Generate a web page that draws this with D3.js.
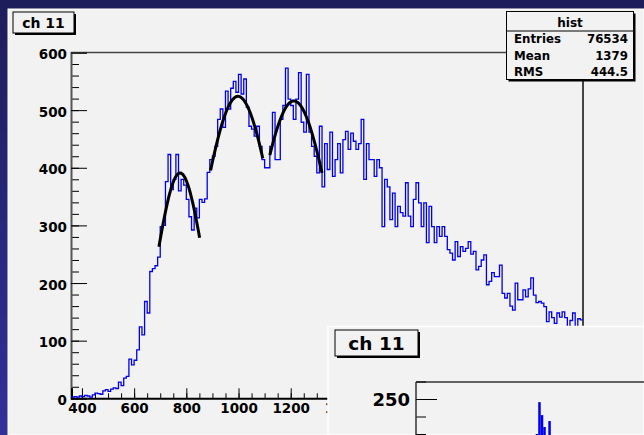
<!DOCTYPE html>
<html>
<head>
<meta charset="utf-8">
<script src="https://cdn.jsdelivr.net/npm/d3@7"></script>
<style>
  body { margin: 0; padding: 0; overflow: hidden; }
  svg { display: block; }
  text { font-family: "DejaVu Sans", "Liberation Sans", sans-serif; font-weight: bold; }
</style>
</head>
<body>
<div id="viz"></div>
<script>
// histogram: 196 bins of width 10, first bin starts at 360
var binStart = 360, binWidth = 10;
var counts = [
  2, 3, 2, 4, 3, 5, 4, 2, 6, 9, 8, 7, 13, 15, 12, 16, 18, 17, 28, 22,
  35, 38, 68, 58, 66, 84, 124, 110, 168, 148, 220, 225, 230, 245, 298, 300, 376, 423, 362, 380,
  423, 360, 380, 370, 345, 315, 292, 330, 313, 345, 340, 346, 392, 414, 420, 437, 484, 502, 470, 533,
  502, 538, 550, 531, 562, 528, 554, 505, 472, 467, 455, 472, 437, 414, 400, 400, 437, 496, 414, 414,
  484, 508, 573, 519, 508, 484, 519, 565, 479, 462, 562, 462, 437, 420, 391, 472, 367, 442, 397, 462,
  385, 414, 442, 391, 449, 463, 432, 460, 446, 432, 442, 484, 380, 442, 414, 414, 385, 414, 400, 298,
  380, 367, 310, 356, 298, 333, 322, 316, 374, 316, 298, 345, 374, 339, 298, 339, 270, 333, 298, 270,
  298, 281, 298, 281, 258, 252, 240, 272, 246, 263, 255, 260, 272, 250, 255, 223, 229, 240, 249, 197,
  203, 218, 211, 211, 231, 182, 174, 182, 160, 153, 200, 171, 171, 188, 176, 190, 209, 179, 166, 168,
  165, 159, 133, 150, 140, 130, 148, 141, 150, 140, 124, 135, 148, 120, 138, 136
];

// gaussian fits: amplitude, mean, sigma, fit range
var fitAmp   = [391, 524, 516];
var fitMean  = [776, 998, 1212];
var fitSigma = [91, 140, 145];
var fitFrom  = [695, 893, 1120];
var fitTo    = [853, 1094, 1322];

// labels further right are hidden under the second canvas
var xTicks = [400, 600, 800, 1000, 1200, 1400];
var yTicks = [0, 100, 200, 300, 400, 500, 600];

var statLabels = ["Entries", "Mean", "RMS"];
var statValues = ["76534", "1379", "444.5"];

// second (overlapping) canvas
var insetBinStart = 475;
var insetCounts = [150, 241, 204, 170, 130, 187];
var insetTicks = [250];

var W = 644, H = 435;
var svg = d3.select("#viz").append("svg")
  .attr("width", W).attr("height", H);

// dark blue background
var defs = svg.append("defs");
var grad = defs.append("linearGradient").attr("id", "bg")
  .attr("x1", 0).attr("y1", 0).attr("x2", 0).attr("y2", 1);
grad.append("stop").attr("offset", "0%").attr("stop-color", "#1d1d5a");
grad.append("stop").attr("offset", "100%").attr("stop-color", "#31319a");
svg.append("rect").attr("width", W).attr("height", H).attr("fill", "url(#bg)");

// main pad
svg.append("rect").attr("x", 8).attr("y", 9).attr("width", W - 8).attr("height", H - 9)
  .attr("fill", "#f2f2f2").attr("stroke", "#ffffff").attr("stroke-width", 1);

var frame = {left: 71, top: 52.5, right: 583, bottom: 398.3};

var x = d3.scaleLinear()
  .domain([binStart, binStart + counts.length * binWidth])
  .range([frame.left + 0.5, frame.right]);
var y = d3.scaleLinear()
  .domain([0, 600])
  .range([frame.bottom, frame.top]);

// frame top and right
svg.append("line").attr("x1", frame.left).attr("x2", frame.right)
  .attr("y1", frame.top).attr("y2", frame.top).attr("stroke", "#444").attr("stroke-width", 1.5);
svg.append("line").attr("x1", frame.right).attr("x2", frame.right)
  .attr("y1", frame.top).attr("y2", frame.bottom).attr("stroke", "#444").attr("stroke-width", 2);

// Y axis
var yMinor = d3.range(0, 601, 20);
svg.append("g").attr("transform", "translate(" + frame.left + ",0)")
  .call(d3.axisLeft(y).tickValues(yMinor).tickSize(-8).tickFormat(""))
  .call(function(g) { g.select(".domain").remove(); });
var yAx = svg.append("g").attr("transform", "translate(" + frame.left + ",0)")
  .call(d3.axisLeft(y).tickValues(yTicks).tickSize(-16).tickPadding(4).tickFormat(d3.format("d")));
yAx.select(".domain").attr("stroke", "#555").attr("stroke-width", 2);
yAx.selectAll("text").attr("font-size", 13.5).attr("fill", "#000").attr("dy", "0.45em");

// X axis
var xMinor = d3.range(400, 2320, 50);
svg.append("g").attr("transform", "translate(0," + frame.bottom + ")")
  .call(d3.axisBottom(x).tickValues(xMinor).tickSize(-5).tickFormat(""))
  .call(function(g) { g.select(".domain").remove(); });
var xAx = svg.append("g").attr("transform", "translate(0," + frame.bottom + ")")
  .call(d3.axisBottom(x).tickValues(d3.range(400, 2320, 200)).tickSize(-10).tickFormat(""));
xAx.select(".domain").attr("stroke", "#000").attr("stroke-width", 2);
var xLab = svg.append("g").attr("transform", "translate(0," + frame.bottom + ")")
  .call(d3.axisBottom(x).tickValues(xTicks).tickSize(0).tickPadding(5).tickFormat(d3.format("d")));
xLab.select(".domain").remove();
xLab.selectAll("text").attr("font-size", 13.5).attr("fill", "#000");

// histogram as a step line
var pts = counts.map(function(c, i) { return [binStart + i * binWidth, c]; });
pts.push([binStart + counts.length * binWidth, counts[counts.length - 1]]);
svg.append("path").datum(pts)
  .attr("fill", "none")
  .attr("stroke", "#0000f0")
  .attr("stroke-width", 1.3)
  .attr("d", d3.line()
    .x(function(d) { return x(d[0]); })
    .y(function(d) { return y(d[1]); })
    .curve(d3.curveStepAfter));

// gaussian fits
fitAmp.forEach(function(a, k) {
  var xs = d3.range(fitFrom[k], fitTo[k] + 0.1, 4);
  svg.append("path").datum(xs)
    .attr("fill", "none")
    .attr("stroke", "#000")
    .attr("stroke-width", 3)
    .attr("d", d3.line()
      .x(function(v) { return x(v); })
      .y(function(v) {
        var z = (v - fitMean[k]) / fitSigma[k];
        return y(a * Math.exp(-0.5 * z * z));
      }));
});

// title box
function titleBox(x0, y0, w, h, label, size) {
  svg.append("rect").attr("x", x0 + 2).attr("y", y0 + 2).attr("width", w).attr("height", h)
    .attr("fill", "#000");
  svg.append("rect").attr("x", x0).attr("y", y0).attr("width", w).attr("height", h)
    .attr("fill", "#f2f2f2").attr("stroke", "#000").attr("stroke-width", 1);
  svg.append("text").attr("x", x0 + w / 2).attr("y", y0 + h / 2)
    .attr("dy", "0.36em").attr("text-anchor", "middle")
    .attr("font-size", size).attr("fill", "#000").text(label);
}
titleBox(13, 12, 61, 21, "ch 11", 14);

// stats box
var sb = {x: 506.5, y: 11.5, w: 127, h: 68};
svg.append("rect").attr("x", sb.x + 2).attr("y", sb.y + 2).attr("width", sb.w).attr("height", sb.h)
  .attr("fill", "#000");
svg.append("rect").attr("x", sb.x).attr("y", sb.y).attr("width", sb.w).attr("height", sb.h)
  .attr("fill", "#f2f2f2").attr("stroke", "#000").attr("stroke-width", 1);
svg.append("line").attr("x1", sb.x).attr("x2", sb.x + sb.w)
  .attr("y1", 31).attr("y2", 31).attr("stroke", "#000");
svg.append("text").attr("x", sb.x + sb.w / 2).attr("y", 27)
  .attr("text-anchor", "middle").attr("font-size", 12).attr("fill", "#000").text("hist");
statLabels.forEach(function(s, i) {
  var by = 43 + i * 16.5;
  svg.append("text").attr("x", 514).attr("y", by)
    .attr("font-size", 11.8).attr("fill", "#000").text(s);
  svg.append("text").attr("x", 628).attr("y", by).attr("text-anchor", "end")
    .attr("font-size", 11.8).attr("fill", "#000").text(statValues[i]);
});

// overlapping second canvas
svg.append("rect").attr("x", 328).attr("y", 326.5).attr("width", W - 328).attr("height", H - 326.5)
  .attr("fill", "#f2f2f2").attr("stroke", "#ffffff").attr("stroke-width", 1.5);
titleBox(335, 330, 83, 26, "ch 11", 18.5);

var ix = d3.scaleLinear().domain([0, 2000]).range([416, 920]);
var iy = d3.scaleLinear().domain([0, 250]).range([486.5, 399]);

svg.append("g").selectAll("rect").data(insetCounts).join("rect")
  .attr("x", function(d, i) { return ix(insetBinStart + i * 10); })
  .attr("width", ix(10) - ix(0))
  .attr("y", function(d) { return iy(d); })
  .attr("height", function(d) { return iy(0) - iy(d); })
  .attr("fill", "#0000f0");

svg.append("line").attr("x1", 416).attr("x2", W).attr("y1", 382).attr("y2", 382)
  .attr("stroke", "#333").attr("stroke-width", 1.5);
svg.append("g").attr("transform", "translate(416,0)")
  .call(d3.axisLeft(iy).tickValues(d3.range(0, 301, 50)).tickSize(-10).tickFormat(""))
  .call(function(g) { g.select(".domain").remove(); });
var iAx = svg.append("g").attr("transform", "translate(416,0)")
  .call(d3.axisLeft(iy).tickValues(insetTicks).tickSize(-21).tickPadding(6).tickFormat(d3.format("d")));
iAx.select(".domain").attr("d", "M0,382V" + H).attr("stroke", "#333").attr("stroke-width", 1.5);
iAx.selectAll("text").attr("font-size", 18).attr("fill", "#000").attr("dy", "0.36em");
</script>
</body>
</html>
